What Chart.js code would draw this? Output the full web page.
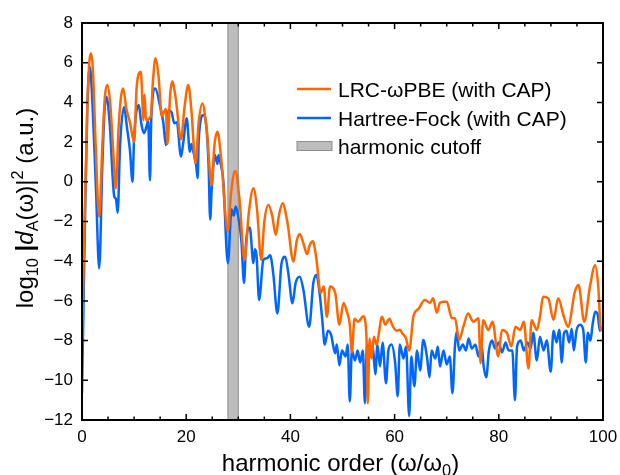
<!DOCTYPE html>
<html>
<head>
<meta charset="utf-8">
<script src="https://cdn.jsdelivr.net/npm/chart.js@4.4.0/dist/chart.umd.min.js"></script>
<style>
    body { margin: 0; background: #ffffff; }
    #wrap { width: 620px; height: 475px; }
</style>
</head>
<body>
<div id="wrap"><canvas id="hhgChart" width="620" height="475"></canvas></div>
<script>
// HHG spectrum
const lrcX = [0, 0.5, 1.0, 1.4, 1.73, 2.1, 2.6, 3.3, 3.9, 4.4, 4.86, 5.4, 6.0, 6.5, 7.0, 7.5, 7.9, 8.5, 9.2, 10.0,
    10.5, 11.3, 11.8, 12.0, 12.3, 13.2, 13.6, 14.1, 14.7, 15.3, 16.1, 16.4, 16.9, 17.3, 18.0, 19.0, 19.7, 20.4, 21.0, 21.8,
    22.4, 23.1, 23.9, 24.9, 25.4, 26.0, 26.7, 28.0, 28.6, 29.4, 30.2, 31.2, 32.0, 32.9, 33.6, 34.4, 35.0, 35.8, 36.5, 37.2,
    37.8, 38.5, 39.4, 40.6, 41.2, 41.8, 42.5, 43.2, 43.7, 44.3, 45.0, 45.8, 46.4, 47.0, 47.6, 48.6, 49.4, 50.2, 50.8, 51.4,
    51.8, 52.3, 53.0, 54.0, 54.6, 54.85, 55.2, 55.6, 56.0, 56.5, 57.6, 58.2, 59.0, 59.7, 60.4, 61.0, 61.4, 62.2, 62.8, 63.6,
    64.6, 65.8, 66.8, 67.4, 68.1, 68.7, 69.4, 70.0, 71.0, 71.6, 72.4, 73.2, 74.1, 75.1, 76.1, 76.5, 77.0, 78.0, 78.8, 79.9,
    80.6, 81.6, 82.4, 83.2, 84.1, 84.8, 85.7, 86.3, 87.3, 87.9, 88.5, 89.5, 90.5, 91.4, 92.4, 93.3, 94.6, 95.3, 96.4, 97.5,
    98.5, 99.1, 99.6, 100];
const lrcY = [-8.2, -1.9, 3.5, 6.0, 6.47, 5.6, 2.0, -1.76, 1.8, 4.3, 4.88, 4.0, 1.5, -0.33, 2.6, 4.3, 4.7, 3.7, 3.0, 2.0,
    4.8, 5.55, 3.1, 4.4, 3.1, 3.3, 5.0, 6.22, 5.3, 3.3, 3.67, 1.9, 4.3, 5.05, 4.2, 2.14, 3.8, 4.88, 3.6, 0.93,
    3.0, 3.95, 2.7, -0.16, 1.8, 2.52, 1.2, -2.5, -0.6, 0.54, -0.8, -3.94, -1.6, -0.33, -1.4, -3.94, -2.0, -1.17, -1.7, -2.68,
    -1.7, -1.08, -2.0, -4.02, -3.0, -2.63, -3.1, -3.64, -3.2, -3.0, -3.9, -5.6, -5.28, -6.8, -5.28, -5.6, -7.2, -6.1, -6.5, -7.2,
    -8.6, -6.9, -7.05, -6.77, -7.8, -11.16, -7.9, -8.9, -7.8, -8.2, -6.8, -7.2, -6.9, -7.3, -7.5, -7.45, -7.6, -7.9, -8.5, -6.8,
    -6.4, -5.95, -6.1, -5.87, -6.6, -6.1, -6.04, -6.04, -6.88, -6.88, -7.97, -7.3, -6.63, -7.05, -6.88, -9.14, -6.97, -7.47, -7.05, -8.8,
    -7.47, -7.64, -8.3, -7.3, -7.47, -7.05, -9.4, -6.97, -7.47, -6.8, -5.79, -5.87, -6.96, -5.87, -6.71, -7.3, -5.54, -5.2, -7.05, -5.28,
    -4.2, -5.3, -7.47, -7.3];

const hfX = [0, 0.5, 1.0, 1.5, 2.0, 2.7, 3.3, 3.9, 4.3, 4.7, 5.3, 6.2, 6.5, 6.85, 7.3, 8.06, 8.7, 9.2, 9.7, 10.0,
    10.9, 11.4, 11.9, 12.4, 12.7, 13.05, 13.3, 14.07, 15.0, 15.6, 16.1, 16.6, 17.2, 17.7, 18.2, 19.0, 19.4, 20.1, 20.7, 21.0,
    21.3, 21.9, 22.2, 22.4, 23.3, 23.9, 24.3, 24.6, 24.9, 25.5, 26.0, 26.2, 26.6, 27.1, 28.0, 28.7, 29.1, 29.5, 30.0, 30.6,
    31.1, 31.5, 32.2, 32.9, 33.2, 33.5, 34.0, 34.8, 35.5, 36.1, 36.7, 37.5, 38.3, 39.0, 39.6, 40.4, 41.0, 41.8, 42.5, 43.6,
    44.4, 45.0, 45.6, 46.1, 46.6, 47.2, 47.8, 48.6, 48.9, 49.4, 49.9, 50.6, 51.0, 51.4, 51.8, 52.4, 52.9, 53.4, 53.9, 54.3,
    54.7, 55.3, 55.8, 56.3, 56.7, 57.2, 57.7, 58.35, 58.8, 59.4, 60.1, 60.6, 61.0, 61.7, 62.2, 62.8, 63.2, 63.8, 64.3, 64.9,
    65.5, 66.2, 66.7, 67.1, 67.8, 68.3, 68.7, 69.4, 70.0, 70.6, 71.1, 71.6, 71.9, 72.4, 73.1, 73.7, 74.2, 74.8, 75.5, 76.1,
    76.7, 77.1, 77.6, 78.1, 78.7, 79.3, 80.0, 80.6, 81.3, 81.9, 82.6, 83.1, 83.5, 84.2, 84.8, 85.5, 86.1, 86.6, 87.3, 87.9,
    88.6, 89.2, 89.96, 90.5, 91.1, 91.6, 92.1, 92.5, 93.0, 93.5, 94.0, 94.4, 94.9, 95.6, 96.2, 96.7, 97.1, 97.6, 98.0, 98.5,
    99.0, 99.4, 100];
const hfY = [-10.65, -3.0, 3.5, 5.8, 4.0, -0.5, -4.36, 0.8, 3.5, 4.29, 3.0, -0.75, -0.85, -1.56, 1.8, 3.75, 2.6, 1.6, 0.0, 2.2,
    3.87, 2.9, 2.45, 2.8, 3.1, 0.07, 3.2, 4.7, 3.8, 3.0, 1.85, 3.6, 3.5, 2.95, 3.0, 1.27, 1.9, 3.2, 1.52, 1.9,
    1.6, 0.85, 0.18, 2.1, 3.37, 2.7, 0.8, -1.9, -0.33, 1.35, 0.9, 1.35, 0.93, 0.1, -4.1, -1.4, -1.7, -1.25, -1.75, -3.0,
    -5.1, -3.0, -2.3, -4.1, -3.4, -3.7, -5.95, -3.94, -3.85, -3.7, -4.6, -6.63, -4.1, -3.77, -4.6, -6.12, -5.1, -4.78, -5.45, -7.3,
    -5.1, -4.7, -5.6, -6.9, -8.2, -7.5, -7.7, -8.64, -8.2, -9.25, -8.5, -8.8, -8.2, -11.07, -8.5, -9.0, -8.5, -9.1, -8.5, -11.16,
    -8.2, -8.8, -8.3, -9.7, -8.2, -9.3, -8.1, -10.15, -8.5, -8.2, -9.1, -10.8, -8.2, -8.9, -8.3, -11.8, -8.8, -10.3, -8.5, -9.5,
    -7.97, -8.8, -9.85, -8.5, -8.9, -8.3, -9.3, -8.5, -9.2, -8.8, -10.65, -8.2, -7.55, -8.5, -8.2, -8.5, -7.9, -8.4, -8.2, -8.8,
    -8.2, -9.3, -9.85, -8.5, -8.0, -8.4, -8.1, -8.6, -8.1, -8.5, -8.5, -11.0, -8.3, -8.0, -8.5, -8.1, -8.4, -7.6, -9.0, -7.8,
    -8.5, -8.0, -9.57, -7.5, -8.1, -7.45, -9.1, -7.65, -7.5, -8.1, -7.4, -8.5, -7.5, -7.2, -7.45, -9.1, -7.6, -8.0, -7.2, -6.55,
    -6.7, -7.5, -7.3];

const cutoffRange = [28, 30];
const xTicks = [0, 20, 40, 60, 80, 100];
const xMinorTicks = [5, 10, 15, 25, 30, 35, 45, 50, 55, 65, 70, 75, 85, 90, 95];
const yTicks = [-12, -10, -8, -6, -4, -2, 0, 2, 4, 6, 8];
const seriesLabels = ['LRC-ωPBE (with CAP)', 'Hartree-Fock (with CAP)', 'harmonic cutoff'];

const ORANGE = '#ff6600';
const BLUE = '#0066ff';
const BAND_FILL = '#bdbdbd';
const BAND_EDGE = '#8e8e8e';
const FONT = '"Liberation Sans", Arial, Helvetica, sans-serif';

function toPoints(xs, ys) {
    return xs.map((x, i) => ({ x: x, y: ys[i] }));
}

// draws text made of pieces, some of them sub/superscript
function richText(ctx, parts, size, x, y, align) {
    const measure = p => {
        const s = p.sub || p.sup ? size * 0.68 : size;
        ctx.font = (p.italic ? 'italic ' : '') + (p.bold ? 'bold ' : '') + s + 'px ' + FONT;
        return ctx.measureText(p.t).width;
    };
    const total = parts.reduce((w, p) => w + measure(p), 0);
    let cx = align === 'center' ? x - total / 2 : x;
    parts.forEach(p => {
        const w = measure(p);
        let dy = 0;
        if (p.sub) dy = size * 0.22;
        if (p.sup) dy = -size * 0.42;
        ctx.fillText(p.t, cx, y + dy);
        cx += w;
    });
}

const cutoffBand = {
    id: 'cutoffBand',
    beforeDatasetsDraw(chart) {
        const { ctx, chartArea, scales } = chart;
        const x0 = scales.x.getPixelForValue(cutoffRange[0]);
        const x1 = scales.x.getPixelForValue(cutoffRange[1]);
        ctx.save();
        ctx.fillStyle = BAND_FILL;
        ctx.fillRect(x0, chartArea.top, x1 - x0, chartArea.bottom - chartArea.top);
        ctx.strokeStyle = BAND_EDGE;
        ctx.lineWidth = 1;
        ctx.beginPath();
        ctx.moveTo(x0, chartArea.top); ctx.lineTo(x0, chartArea.bottom);
        ctx.moveTo(x1, chartArea.top); ctx.lineTo(x1, chartArea.bottom);
        ctx.stroke();
        ctx.restore();
    }
};

const frameAndTicks = {
    id: 'frameAndTicks',
    afterDatasetsDraw(chart) {
        const { ctx, chartArea: a, scales } = chart;
        ctx.save();
        ctx.strokeStyle = '#000';
        ctx.lineWidth = 1.5;
        ctx.beginPath();
        const vTick = (v, len) => {
            const px = scales.x.getPixelForValue(v);
            ctx.moveTo(px, a.bottom); ctx.lineTo(px, a.bottom - len);
            ctx.moveTo(px, a.top); ctx.lineTo(px, a.top + len);
        };
        xTicks.forEach(v => vTick(v, 6));
        xMinorTicks.forEach(v => vTick(v, 3.5));
        yTicks.forEach(v => {
            const py = scales.y.getPixelForValue(v);
            ctx.moveTo(a.left, py); ctx.lineTo(a.left + 6, py);
            ctx.moveTo(a.right, py); ctx.lineTo(a.right - 6, py);
        });
        ctx.stroke();
        ctx.lineWidth = 2;
        ctx.strokeRect(a.left, a.top, a.right - a.left, a.bottom - a.top);
        ctx.restore();
    }
};

const titlesAndLegend = {
    id: 'titlesAndLegend',
    afterDraw(chart) {
        const { ctx, chartArea: a } = chart;
        ctx.save();
        ctx.fillStyle = '#000';
        ctx.textBaseline = 'alphabetic';
        ctx.textAlign = 'left';

        // x axis title
        richText(ctx, [{ t: 'harmonic order (ω/ω' }, { t: '0', sub: true }, { t: ')' }],
            24, (a.left + a.right) / 2 - 2, a.bottom + 51, 'center');

        // y axis title
        ctx.save();
        ctx.translate(33, a.top + 185);
        ctx.rotate(-Math.PI / 2);
        richText(ctx, [
            { t: 'log' }, { t: '10', sub: true }, { t: ' ' }, { t: '|', bold: true },
            { t: 'd', italic: true }, { t: 'A', sub: true }, { t: '(ω)|' }, { t: '2', sup: true },
            { t: ' (a.u.)' }
        ], 24, 0, 0, 'center');
        ctx.restore();

        // legend inside the plot
        const lx = a.left + 215, rowY = [a.top + 66, a.top + 95, a.top + 123];
        ctx.lineWidth = 2.5;
        [ORANGE, BLUE].forEach((c, i) => {
            ctx.strokeStyle = c;
            ctx.beginPath();
            ctx.moveTo(lx, rowY[i]); ctx.lineTo(lx + 34, rowY[i]);
            ctx.stroke();
        });
        ctx.fillStyle = BAND_FILL;
        ctx.fillRect(lx, rowY[2] - 4.5, 35, 9);
        ctx.strokeStyle = BAND_EDGE;
        ctx.lineWidth = 1;
        ctx.strokeRect(lx, rowY[2] - 4.5, 35, 9);
        ctx.fillStyle = '#000';
        ctx.font = '21px ' + FONT;
        seriesLabels.forEach((t, i) => ctx.fillText(t, lx + 41, rowY[i] + 7.5));
        ctx.restore();
    }
};

const minusSign = v => String(v).replace('-', '\u2212');

new Chart(document.getElementById('hhgChart'), {
    type: 'line',
    data: {
        datasets: [
            {
                label: seriesLabels[0],
                data: toPoints(lrcX, lrcY),
                borderColor: ORANGE,
                borderWidth: 2.5,
                pointRadius: 0,
                cubicInterpolationMode: 'monotone',
                order: 0
            },
            {
                label: seriesLabels[1],
                data: toPoints(hfX, hfY),
                borderColor: BLUE,
                borderWidth: 2.5,
                pointRadius: 0,
                cubicInterpolationMode: 'monotone',
                order: 1
            }
        ]
    },
    options: {
        responsive: false,
        animation: false,
        devicePixelRatio: 1,
        layout: { padding: { left: 0, right: 0, top: 23, bottom: 0 } },
        plugins: {
            legend: { display: false },
            tooltip: { enabled: false }
        },
        scales: {
            x: {
                type: 'linear',
                min: 0,
                max: 100,
                afterBuildTicks: s => { s.ticks = xTicks.map(v => ({ value: v })); },
                afterFit: s => { s.height = 55; s.paddingRight = 17; },
                grid: { display: false, drawTicks: false },
                border: { display: false },
                ticks: {
                    color: '#000',
                    padding: 7,
                    maxRotation: 0,
                    font: { family: FONT, size: 17 },
                    callback: minusSign
                }
            },
            y: {
                type: 'linear',
                min: -12,
                max: 8,
                afterBuildTicks: s => { s.ticks = yTicks.map(v => ({ value: v })); },
                afterFit: s => { s.width = 82; },
                grid: { display: false, drawTicks: false },
                border: { display: false },
                ticks: {
                    color: '#000',
                    padding: 9,
                    font: { family: FONT, size: 17 },
                    callback: minusSign
                }
            }
        }
    },
    plugins: [cutoffBand, frameAndTicks, titlesAndLegend]
});
</script>
</body>
</html>
